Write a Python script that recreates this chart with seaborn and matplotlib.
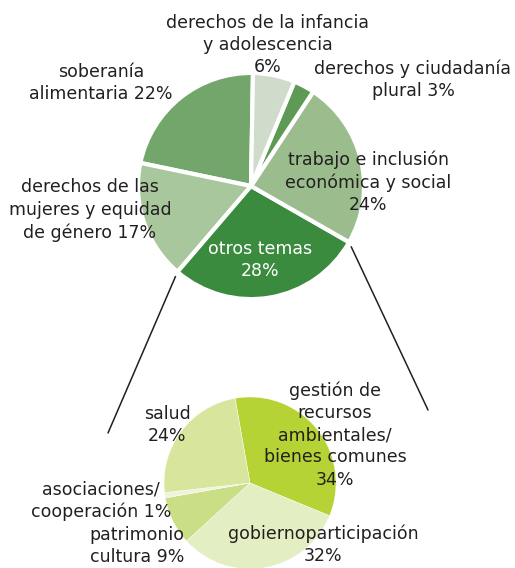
import numpy as np
import matplotlib
matplotlib.use("Agg")
import matplotlib.pyplot as plt
import seaborn as sns

# ---------------------------------------------------------------
# Data
# ---------------------------------------------------------------
TOP_NAMES = ["soberanía\nalimentaria", "derechos de las\nmujeres y equidad\nde género",
             "otros temas", "trabajo e inclusión\neconómica y social",
             "derechos y ciudadanía\nplural", "derechos de la infancia\ny adolescencia"]
TOP_VALUES = [22, 17, 28, 24, 3, 6]
TOP_COLORS = ["#72a66a", "#a9c79d", "#3a8b3e", "#9bbd8d", "#5e9a56", "#cfdccb"]

BOTTOM_NAMES = ["gestión de\nrecursos\nambientales/\nbienes comunes", "gobiernoparticipación",
                "patrimonio\ncultura", "asociaciones/\ncooperación", "salud"]
BOTTOM_VALUES = [34, 32, 9, 1, 24]
BOTTOM_COLORS = ["#b5d334", "#e3eec3", "#c9de85", "#eef4d8", "#d7e59d"]

# ---------------------------------------------------------------
# Layout (pixel coordinates, origin top-left)
# ---------------------------------------------------------------
W, H = 515, 568
TOP_CENTER = (251, 186)
TOP_RADIUS = 113
BOTTOM_CENTER = (250, 483)
BOTTOM_RADIUS = 86
TOP_EXPLODE = [0.035, 0.035, 0.11, 0.035, 0.035, 0.035]

TOP_LABEL_POS = [(101, 83, " "), (90, 210, " "), (260, 260, "\n"), (368, 182, "\n"),
                 (413, 80, " "), (268, 45, "\n")]
BOTTOM_LABEL_POS = [(335, 435, "\n"), (323, 545, "\n"), (137, 546, " "), (101, 501, " "),
                    (167, 425, "\n")]
CONNECTOR_ENDS = [(108, 433), (428, 410)]
TEXT_COLOR = "#231f20"
FONTSIZE = 12.5


def fy(y):
    return H - y


def main():
    sns.set_theme(style="white")
    plt.rcParams["font.family"] = ["DejaVu Sans"]

    fig = plt.figure(figsize=(W / 100, H / 100), dpi=100)
    ax = fig.add_axes([0, 0, 1, 1])
    ax.set_xlim(0, W)
    ax.set_ylim(0, H)
    ax.set_aspect("equal")
    ax.axis("off")

    top_wedges, _ = ax.pie(TOP_VALUES, colors=TOP_COLORS, startangle=89,
                           counterclock=True, explode=TOP_EXPLODE,
                           center=(TOP_CENTER[0], fy(TOP_CENTER[1])), radius=TOP_RADIUS,
                           wedgeprops=dict(edgecolor="white", linewidth=3))
    ax.pie(BOTTOM_VALUES, colors=BOTTOM_COLORS, startangle=100, counterclock=False,
           center=(BOTTOM_CENTER[0], fy(BOTTOM_CENTER[1])), radius=BOTTOM_RADIUS,
           wedgeprops=dict(edgecolor="white", linewidth=0.3))
    ax.set_xlim(0, W)
    ax.set_ylim(0, H)

    # connector lines from the "otros temas" wedge corners
    w = top_wedges[2]
    cx, cy = w.center
    for ang, (ex, ey) in zip([w.theta1, w.theta2], CONNECTOR_ENDS):
        a = np.deg2rad(ang)
        kx = cx + w.r * np.cos(a)
        ky = cy + w.r * np.sin(a)
        d = np.array([ex - kx, fy(ey) - ky])
        d = d / np.hypot(*d)
        ax.plot([kx + 5 * d[0], ex], [ky + 5 * d[1], fy(ey)], color="#231f20", lw=1.1)

    for i, (name, val) in enumerate(zip(TOP_NAMES, TOP_VALUES)):
        x, y, sep = TOP_LABEL_POS[i]
        col = "white" if i == 2 else TEXT_COLOR
        ax.text(x, fy(y), f"{name}{sep}{val}%", ha="center", va="center",
                fontsize=FONTSIZE, color=col, linespacing=1.3)

    for i, (name, val) in enumerate(zip(BOTTOM_NAMES, BOTTOM_VALUES)):
        x, y, sep = BOTTOM_LABEL_POS[i]
        ax.text(x, fy(y), f"{name}{sep}{val}%", ha="center", va="center",
                fontsize=FONTSIZE, color=TEXT_COLOR, linespacing=1.3)

    fig.savefig("out.png", dpi=100, facecolor="white")


if __name__ == "__main__":
    main()
